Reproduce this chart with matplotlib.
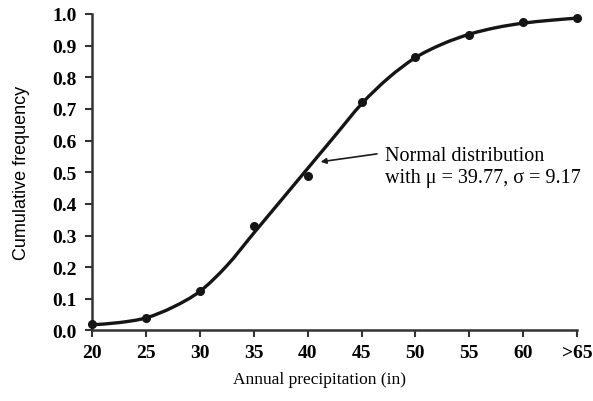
import matplotlib
matplotlib.use('Agg')
import matplotlib.pyplot as plt
from matplotlib.path import Path
from matplotlib.patches import PathPatch

# observed cumulative frequencies
precip = [20, 25, 30, 35, 40, 45, 50, 55, 60, 65]
cum_freq = [0.019, 0.039, 0.124, 0.331, 0.487, 0.722, 0.863, 0.934, 0.974, 0.987]
x_tick_labels = ['20', '25', '30', '35', '40', '45', '50', '55', '60', '>65']
y_ticks = [0.0, 0.1, 0.2, 0.3, 0.4, 0.5, 0.6, 0.7, 0.8, 0.9, 1.0]

# fitted normal curve as drawn
curve_x = [20, 22.5, 25, 27.5, 30, 32.5, 35, 37.5, 40, 42.5, 45,
           47.5, 50, 52.5, 55, 57.5, 60, 62.5, 65]
curve_y = [0.018, 0.025, 0.040, 0.074, 0.124, 0.205, 0.308, 0.410, 0.512,
           0.614, 0.716, 0.798, 0.862, 0.905, 0.936, 0.957, 0.971, 0.980, 0.987]


def smooth_path(xs, ys):
    # Catmull-Rom through the points, drawn as cubic Bezier segments
    pts = list(zip(xs, ys))
    verts = [pts[0]]
    codes = [Path.MOVETO]
    n = len(pts)
    for i in range(n - 1):
        p0 = pts[max(i - 1, 0)]
        p1 = pts[i]
        p2 = pts[i + 1]
        p3 = pts[min(i + 2, n - 1)]
        c1 = (p1[0] + (p2[0] - p0[0]) / 6, p1[1] + (p2[1] - p0[1]) / 6)
        c2 = (p2[0] - (p3[0] - p1[0]) / 6, p2[1] - (p3[1] - p1[1]) / 6)
        verts += [c1, c2, p2]
        codes += [Path.CURVE4] * 3
    return Path(verts, codes)


def main():
    plt.rcParams['font.family'] = ['Liberation Serif', 'DejaVu Serif']

    fig = plt.figure(figsize=(5.93, 4.02), dpi=100)
    ax = fig.add_axes([0.1556, 0.1754, 0.8174, 0.7873])

    curve = PathPatch(smooth_path(curve_x, curve_y), fill=False, edgecolor='#151515',
                      lw=2.4, capstyle='round', joinstyle='round', clip_on=False, zorder=3)
    ax.add_patch(curve)
    ax.plot(precip, cum_freq, 'o', color='#151515', ms=5.5, clip_on=False, zorder=4)

    ax.set_xlim(20, 65)
    ax.set_ylim(0, 1)
    ax.set_xticks(precip)
    ax.set_xticklabels(x_tick_labels, fontsize=14, fontweight='bold')
    ax.set_yticks(y_ticks)
    ax.set_yticklabels([f'{t:.1f}' for t in y_ticks], fontsize=14, fontweight='bold')
    ax.tick_params(axis='both', direction='out', length=5, width=1.5, color='#333333')
    ax.tick_params(axis='x', pad=5)
    ax.tick_params(axis='y', pad=6)

    for side in ['top', 'right']:
        ax.spines[side].set_visible(False)
    for side in ['left', 'bottom']:
        ax.spines[side].set_linewidth(1.8)
        ax.spines[side].set_color('#333333')

    ax.set_xlabel('Annual precipitation (in)', fontsize=12.5)
    ax.xaxis.set_label_coords(0.468, -0.128)
    ax.set_ylabel('Cumulative frequency', fontsize=13, family=['Liberation Sans', 'DejaVu Sans'])
    ax.yaxis.set_label_coords(-0.128, 0.5)

    ax.annotate('', xy=(41.2, 0.533), xytext=(46.43, 0.558),
                arrowprops=dict(arrowstyle='-|>', color='#1a1a1a', lw=1.2,
                                mutation_scale=8, shrinkA=0, shrinkB=0))
    ax.text(47.16, 0.518, 'Normal distribution\nwith \u03bc = 39.77, \u03c3 = 9.17',
            fontsize=14.5, va='center', ha='left', linespacing=1.2)

    fig.savefig('out.png', dpi=100)


if __name__ == '__main__':
    main()
